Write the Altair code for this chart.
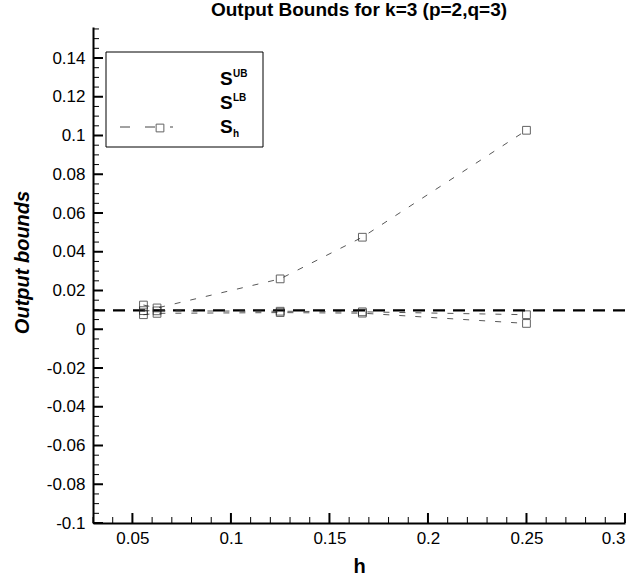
import altair as alt
import pandas as pd

# ---- data ----
h_vals = [0.0556, 0.0625, 0.125, 0.1667, 0.25]
s_ub = [0.0125, 0.0110, 0.0260, 0.0475, 0.1027]
s_lb = [0.0075, 0.0082, 0.0086, 0.0083, 0.0030]
s_h = [0.0096, 0.0095, 0.0093, 0.0090, 0.0075]
s_exact = [0.0097]
series_names = ["S_UB", "S_LB", "S_h"]

x_major = [0.05, 0.1, 0.15, 0.2, 0.25, 0.3]
x_minor = [0.03, 0.04, 0.06, 0.07, 0.08, 0.09, 0.11, 0.12, 0.13, 0.14,
           0.16, 0.17, 0.18, 0.19, 0.21, 0.22, 0.23, 0.24, 0.26, 0.27, 0.28, 0.29]
y_major = [-0.1, -0.08, -0.06, -0.04, -0.02, 0, 0.02, 0.04, 0.06, 0.08, 0.1, 0.12, 0.14]
y_minor = [round(-0.095 + 0.005 * i, 3) for i in range(51)]
y_minor = [v for v in y_minor if all(abs(v - m) > 1e-9 for m in y_major)]

W, H = 532, 496
FONT = "Liberation Sans"

rows = []
for name, vals in zip(series_names, [s_ub, s_lb, s_h]):
    for hv, v in zip(h_vals, vals):
        rows.append({"series": name, "h": hv, "value": v})
df = pd.DataFrame(rows)

xscale = alt.Scale(domain=[0.03, 0.3], nice=False, zero=False)
yscale = alt.Scale(domain=[-0.1, 0.156], nice=False, zero=False)

common_axis = dict(grid=False, ticks=False, tickSize=0, domainColor="black", domainWidth=2,
                   labelFont=FONT, titleFont=FONT, labelFontSize=17, labelColor="black",
                   titleColor="black")

xaxis = alt.Axis(values=x_major, labelExpr="'' + datum.value", title="h",
                 titleFontSize=20, titleFontWeight="bold", titlePadding=10,
                 labelPadding=7, **common_axis)
yaxis = alt.Axis(values=y_major, labelExpr="'' + datum.value", title="Output bounds",
                 titleFontSize=20, titleFontWeight="bold", titleFontStyle="italic",
                 titleX=-71, titleY=235, titleAngle=-90, titleAlign="center",
                 titleBaseline="middle", labelPadding=8, **common_axis)

one = alt.Data(values=[{}])

# legend box
legend_box = alt.Chart(one).mark_rect(fill="white", stroke="black", strokeWidth=1).encode(
    x=alt.value(13), x2=alt.value(170), y=alt.value(25), y2=alt.value(120))

# exact output line (thick dashed)
exact = alt.Chart(pd.DataFrame({"value": s_exact})).mark_rule(
    color="black", strokeWidth=2.2, strokeDash=[12, 8]).encode(
    y=alt.Y("value:Q", scale=yscale, axis=yaxis))

lines = alt.Chart(df).mark_line(color="#444", strokeWidth=0.9, strokeDash=[6, 10]).encode(
    x=alt.X("h:Q", scale=xscale, axis=xaxis),
    y=alt.Y("value:Q", scale=yscale, axis=yaxis),
    detail="series:N")

points = alt.Chart(df).mark_point(shape="square", filled=False, size=60,
                                  color="#222", strokeWidth=1).encode(
    x=alt.X("h:Q", scale=xscale, axis=xaxis),
    y=alt.Y("value:Q", scale=yscale, axis=yaxis))

# inward ticks
ymaj = alt.Chart(pd.DataFrame({"v": y_major})).mark_rule(color="black", strokeWidth=2).encode(
    y=alt.Y("v:Q", scale=yscale, axis=yaxis), x=alt.value(0), x2=alt.value(10))
ymin = alt.Chart(pd.DataFrame({"v": y_minor})).mark_rule(color="black", strokeWidth=1).encode(
    y=alt.Y("v:Q", scale=yscale, axis=yaxis), x=alt.value(0), x2=alt.value(6))
xmaj = alt.Chart(pd.DataFrame({"v": x_major})).mark_rule(color="black", strokeWidth=2).encode(
    x=alt.X("v:Q", scale=xscale, axis=xaxis), y=alt.value(H), y2=alt.value(H - 10))
xmin = alt.Chart(pd.DataFrame({"v": x_minor})).mark_rule(color="black", strokeWidth=1).encode(
    x=alt.X("v:Q", scale=xscale, axis=xaxis), y=alt.value(H), y2=alt.value(H - 6))

# legend contents
def txt(t, x, y, size):
    return alt.Chart(one).mark_text(text=t, x=x, y=y, fontSize=size, fontWeight="bold",
                                    font=FONT, align="left", baseline="alphabetic",
                                    color="black")

leg_items = [
    txt("S", 127, 58, 19), txt("UB", 140, 50, 10),
    txt("S", 127, 82, 19), txt("LB", 140, 74, 10),
    txt("S", 127, 106, 19), txt("h", 140, 110, 10),
]
leg_line = alt.Chart(one).mark_rule(color="#444", strokeWidth=1, strokeDash=[10, 15]).encode(
    x=alt.value(27), x2=alt.value(80), y=alt.value(100))
leg_pt = alt.Chart(one).mark_point(shape="square", filled=False, size=60, color="#222",
                                   strokeWidth=1).encode(x=alt.value(67), y=alt.value(101))

chart = alt.layer(
    legend_box, exact, lines, points, ymaj, ymin, xmaj, xmin, leg_line, leg_pt, *leg_items
).properties(
    width=W, height=H,
    background="white",
    title=alt.TitleParams("Output Bounds for k=3 (p=2,q=3)", fontSize=19, fontWeight="bold",
                          font=FONT, anchor="middle", offset=7),
    autosize=alt.AutoSizeParams(type="none"),
    padding={"left": 93, "top": 27, "right": 13, "bottom": 59},
).configure_view(stroke=None)

chart.save("out.html", embed_options={"renderer": "svg", "actions": False})
